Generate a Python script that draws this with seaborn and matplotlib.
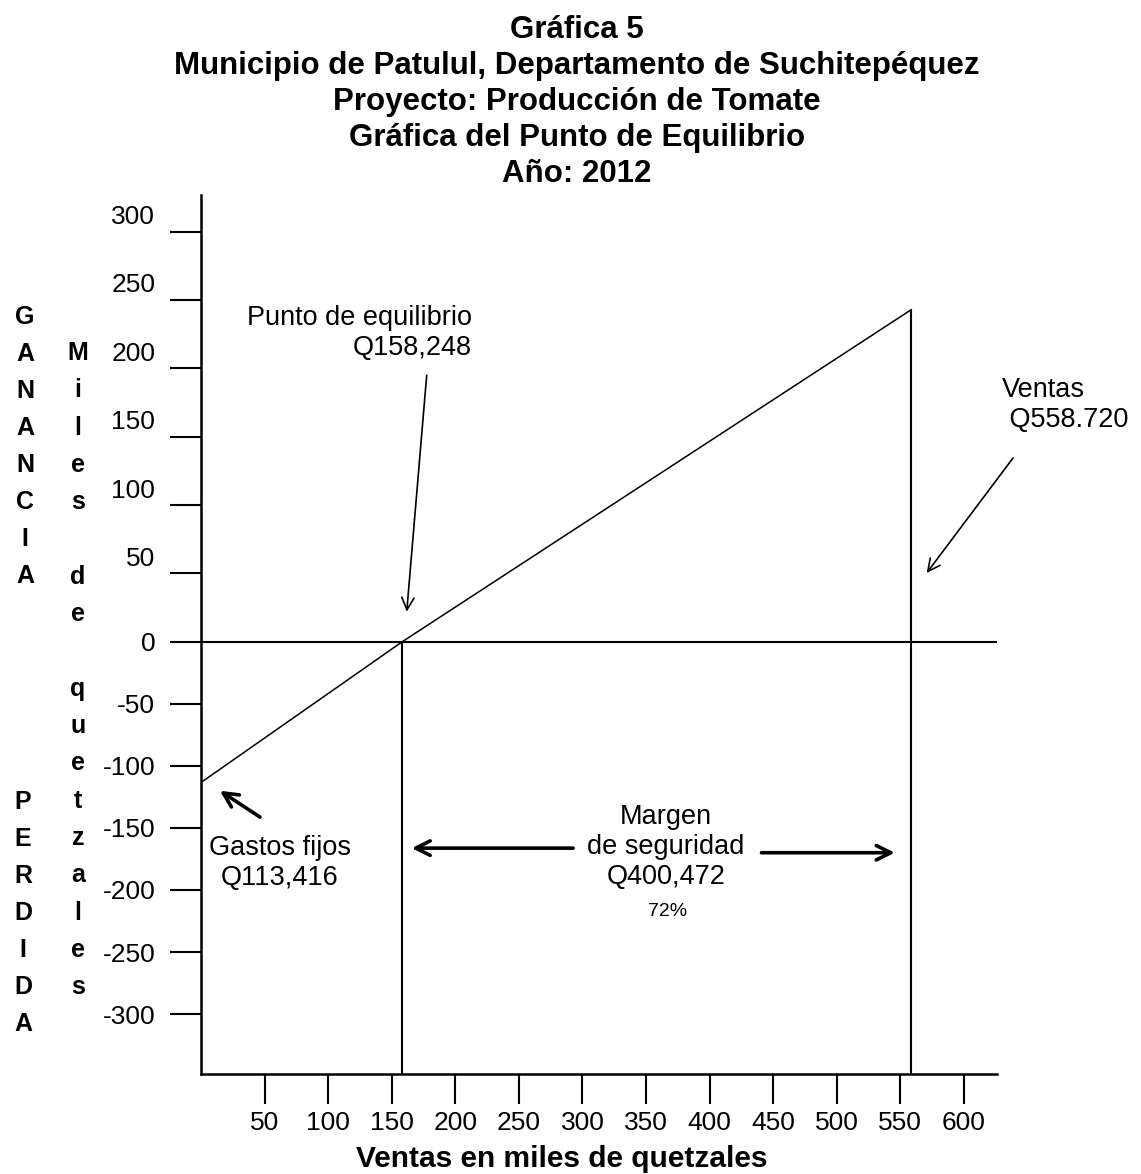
import numpy as np
import pandas as pd
import seaborn as sns
import matplotlib.pyplot as plt
from matplotlib.transforms import ScaledTranslation

# Datos en miles de quetzales
gastos_fijos = 113.416
punto_equilibrio = 158.248
ventas = 558.72
ganancia_en_ventas = 243
margen_seguridad = 400.472
margen_pct = 72

x_ticks = [50, 100, 150, 200, 250, 300, 350, 400, 450, 500, 550, 600]
y_ticks = [-300, -250, -200, -150, -100, -50, 0, 50, 100, 150, 200, 250, 300]

titulo = ["Gráfica 5",
          "Municipio de Patulul, Departamento de Suchitepéquez",
          "Proyecto: Producción de Tomate",
          "Gráfica del Punto de Equilibrio",
          "Año: 2012"]

df = pd.DataFrame({"ventas": [0, punto_equilibrio, ventas],
                   "ganancia": [-gastos_fijos, 0, ganancia_en_ventas]})

sns.set_theme(style="ticks")
plt.rcParams["font.family"] = ["Liberation Sans", "DejaVu Sans"]
plt.rcParams["text.color"] = "black"
plt.rcParams["axes.labelcolor"] = "black"
plt.rcParams["xtick.color"] = "black"
plt.rcParams["ytick.color"] = "black"

W, H = 1141, 1174
fig = plt.figure(figsize=(W / 100, H / 100), dpi=100)
ax = fig.add_axes([201 / W, 1 - 1074 / H, 796 / W, 879 / H])

# la parte negativa del eje Y esta algo comprimida en el original
k = 1.241 / 1.367
ax.set_yscale("function", functions=(lambda y: np.where(y >= 0, y, y * k),
                                     lambda v: np.where(v >= 0, v, v / k)))
y_min, y_max = -348.3, 326.8
ax.set_xlim(0, 626)
ax.set_ylim(y_min, y_max)

sns.lineplot(data=df, x="ventas", y="ganancia", color="black", linewidth=1.1, ax=ax)
ax.axhline(0, color="black", linewidth=1.5)
ax.vlines([punto_equilibrio, ventas], y_min, [0, ganancia_en_ventas],
          color="black", linewidth=1.5)

ax.set_xticks(x_ticks)
ax.set_yticks(y_ticks)
ax.set_yticklabels([str(v) for v in y_ticks])
ax.tick_params(axis="y", direction="out", length=22, width=1.5, pad=11,
               labelsize=19, color="black", labelcolor="black")
ax.tick_params(axis="x", direction="out", length=21.5, width=1.5, pad=5,
               labelsize=19, color="black", labelcolor="black")
for side in ["top", "right"]:
    ax.spines[side].set_visible(False)
for side in ["left", "bottom"]:
    ax.spines[side].set_linewidth(1.8)
    ax.spines[side].set_color("black")

# las etiquetas positivas van un poco arriba de su marca
offset = ScaledTranslation(0, 0.17, fig.dpi_scale_trans)
for tick in ax.yaxis.get_major_ticks():
    if tick.get_loc() > 0:
        tick.label1.set_transform(tick.label1.get_transform() + offset)

ax.set_ylabel("")
ax.set_xlabel("Ventas en miles de quetzales", fontsize=21.5, fontweight="bold",
              color="black")
ax.xaxis.set_label_coords(0.4535, -0.081)

# anotaciones
flecha = dict(arrowstyle="->", color="black", lw=1.2, mutation_scale=22,
              shrinkA=0, shrinkB=0)
flecha_gruesa = dict(arrowstyle="->", color="black", lw=2.6, mutation_scale=26,
                     shrinkA=0, shrinkB=0)

ax.text(213, 226, "Punto de equilibrio\nQ158,248", ha="right", va="center",
        multialignment="right", fontsize=19.5)
ax.annotate("", xy=(161.8, 22), xytext=(177.5, 195), arrowprops=flecha)

ax.text(629.7, 173, "Ventas\n Q558.720", ha="left", va="center", fontsize=19.5,
        clip_on=False)
ax.annotate("", xy=(570.7, 50.3), xytext=(638.6, 134.4), arrowprops=flecha,
            annotation_clip=False)

ax.text(62.1, -178, f"Gastos fijos\nQ{gastos_fijos:,.3f}".replace(".", ","),
        ha="center", va="center", fontsize=19.5)
ax.annotate("", xy=(14.9, -120.1), xytext=(46.4, -141.3), arrowprops=flecha_gruesa)

ax.text(365.7, -165.4, "Margen\nde seguridad\nQ400,472", ha="center", va="center",
        fontsize=19.5)
ax.text(367.3, -217.6, f"{margen_pct}%", ha="center", va="center", fontsize=14)
ax.annotate("", xy=(165.7, -166.3), xytext=(292.6, -166.3), arrowprops=flecha_gruesa)
ax.annotate("", xy=(545.6, -170), xytext=(440.8, -170), arrowprops=flecha_gruesa)

# titulo
for i, linea in enumerate(titulo):
    fig.text(577 / W, 1 - (30 + 36 * i) / H, linea, ha="center", va="center",
             fontsize=22.5, fontweight="bold")

# etiquetas verticales letra por letra
for i, ch in enumerate("GANANCIA"):
    fig.text(25 / W, 1 - (316.7 + 37.1 * i) / H, ch, ha="center", va="center",
             fontsize=18, fontweight="bold")
for i, ch in enumerate("PERDIDA"):
    fig.text(23 / W, 1 - (801.7 + 37 * i) / H, ch, ha="center", va="center",
             fontsize=18, fontweight="bold")
for i, ch in enumerate("Miles de quetzales"):
    fig.text(78 / W, 1 - (353 + 37.3 * i) / H, ch, ha="center", va="center",
             fontsize=18, fontweight="bold")

fig.savefig("out.png", dpi=100, facecolor="white")
